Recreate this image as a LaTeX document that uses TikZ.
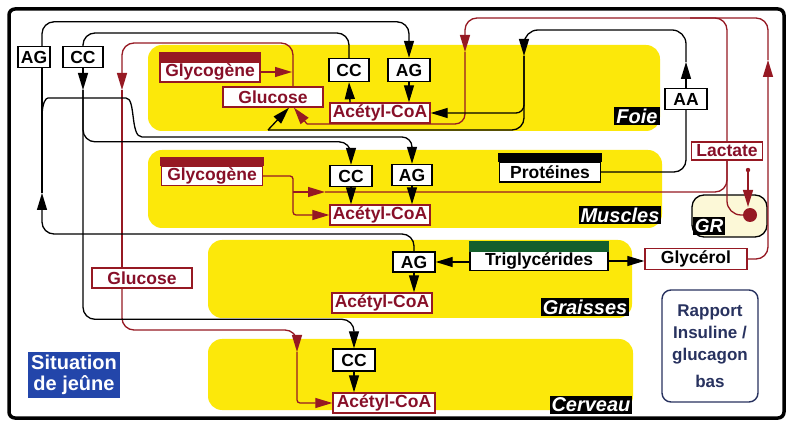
\documentclass[tikz,border=0pt]{standalone}
\usepackage{fontspec}
\setmainfont{Liberation Sans}
\usetikzlibrary{arrows.meta,calc}
\definecolor{dkred}{RGB}{150,25,35}
\definecolor{redtxt}{RGB}{135,15,40}
\definecolor{zone}{RGB}{252,232,10}
\definecolor{navy}{RGB}{40,50,95}
\definecolor{jeune}{RGB}{35,70,170}
\definecolor{grfill}{RGB}{252,248,215}
\definecolor{trigreen}{RGB}{20,95,45}
\begin{document}
\begin{tikzpicture}[x=1pt,y=-1pt,
 every node/.style={font=\fontsize{17.5}{19}\selectfont\bfseries},
 bbox/.style={draw=black, line width=1.4pt, fill=white, inner sep=1pt, minimum height=21pt},
 rbox/.style={draw=dkred, line width=1.4pt, fill=white, text=redtxt, inner sep=1pt, minimum height=20pt, minimum width=100pt},
 zonefill/.style={fill=zone, rounded corners=14pt},
 tagbox/.style={fill=black, text=white, font=\fontsize{20}{22}\selectfont\bfseries\itshape, inner sep=2pt},
 bl/.style={draw=black, line width=1.3pt},
 rl/.style={draw=dkred, line width=1.3pt},
 tipb/.style={-{Triangle[length=17pt,width=10pt]}},
 tipr/.style={-{Triangle[length=17pt,width=10pt]}},
]
\useasboundingbox (0,0) rectangle (795,427);
\fill[white] (0,0) rectangle (795,427);

% zones
\fill[zonefill] (148,45) rectangle (660,131);
\fill[zonefill] (148,150) rectangle (662,228);
\fill[zonefill] (208,240) rectangle (632,318);
\fill[zonefill] (208,339) rectangle (633,410);

% GR cell
\draw[line width=1.3pt, fill=grfill, rounded corners=12pt] (692,195) rectangle (767,237);

% nodes
\node[bbox, minimum width=32pt] (agTL) at (34,57) {AG};
\node[bbox, minimum width=40pt] (ccTL) at (83,57) {CC};
\node[rbox] (glyF) at (210,72) {Glycogène};
\node[rbox] (gluF) at (273,97) {Glucose};
\node[bbox, minimum width=40pt, minimum height=23pt] (ccF) at (349,70) {CC};
\node[bbox, minimum width=42pt, minimum height=23pt] (agF) at (409,70) {AG};
\node[rbox] (acF) at (380,113) {Acétyl-CoA};
\node[bbox, minimum width=42pt] (aa) at (686,99) {AA};
\node[rbox, minimum width=71pt, minimum height=18pt] (lac) at (727,151) {Lactate};
\node[bbox, minimum width=101pt, minimum height=20pt] (prot) at (550,172) {Protéines};
\node[rbox, minimum width=101pt, minimum height=19pt] (glyM) at (212,176) {Glycogène};
\node[bbox, minimum width=42pt] (ccM) at (351,176) {CC};
\node[bbox, minimum width=40pt] (agM) at (412,175) {AG};
\node[rbox] (acM) at (380,215) {Acétyl-CoA};
\node[bbox, minimum width=42pt, minimum height=20pt] (agG) at (414,262) {AG};
\node[rbox] (acG) at (382,303) {Acétyl-CoA};
\node[bbox, minimum width=138pt, minimum height=18pt] (tri) at (539,261) {Triglycérides};
\node[rbox, minimum width=102pt, minimum height=21pt, text=black] (glyc) at (696,259) {Glycérol};
\node[rbox] (gluL) at (142,278) {Glucose};
\node[bbox, minimum width=42pt, minimum height=22pt] (ccC) at (354,360) {CC};
\node[rbox, minimum width=102pt] (acC) at (384,403) {Acétyl-CoA};

% top bars
\filldraw[dkred, line width=1.4pt] (glyF.north west) rectangle ($(glyF.north east)+(0,-9)$);
\filldraw[dkred, line width=1.4pt] (glyM.north west) rectangle ($(glyM.north east)+(0,-8)$);
\filldraw[black, line width=1.4pt] (prot.north west) rectangle ($(prot.north east)+(0,-8)$);
\filldraw[trigreen, line width=1.4pt] (tri.north west) rectangle ($(tri.north east)+(0,-9)$);

% region tags
\node[tagbox] (foie) at (637,116) {Foie};
\node[tagbox] (musc) at (620,215) {Muscles};
\node[tagbox] (grai) at (585,307) {Graisses};
\node[tagbox] (cerv) at (591,405) {Cerveau};
\node[tagbox, font=\fontsize{19}{21}\selectfont\bfseries\itshape] (gr) at (709,226) {GR};

% GR dots
\fill[dkred] (750,215) circle (7pt);
\fill[dkred] (748,170) circle (2.2pt);
\draw[rl, tipr] (748,172) -- (748,207);

% Liver glucose / glycogen
\draw[rl, tipr] (glyF.east) -- (292,72);
\draw[rl, tipr, rounded corners=12pt] ([xshift=20pt]gluF.north) |- (122,43) -- (122,90);
\draw[rl] (122,90) -- ([xshift=-20pt]gluL.north);
\draw[rl, tipr, rounded corners=12pt] ([xshift=-20pt]gluL.south) |- (297,330) -- (297,352);
\draw[rl, tipr, rounded corners=3pt] (297,352) |- (acC.west);

% lactate / glycerol to liver
\draw[rl, tipr, rounded corners=12pt] (glyc.east) -| (768,60);
\draw[rl, tipr, rounded corners=12pt] (768,60) |- (465,18) -- (465,52);
\draw[rl, rounded corners=12pt] (lac.north) |- (690,18);
\draw[rl, rounded corners=10pt] (465,52) |- (307,124);
\draw[rl, tipr] (307,124) -- ([xshift=21pt]gluF.south);

% muscle glycogen
\draw[rl, tipr, rounded corners=3pt] (glyM.east) -| (293,215) -- (acM.west);
\draw[rl, tipr] (293,192) -- (325,192);
\draw[rl, rounded corners=12pt] (325,192) -| (lac.south);
\draw[rl, rounded corners=14pt] (lac.south) |- (743,215);

% amino acids
\draw[bl, rounded corners=12pt] (prot.east) -| (aa.south);
\draw[bl, tipb] (aa.north) -- (686,62);
\draw[bl, tipb, rounded corners=14pt] (686,62) |- (524,30) -- (524,56);
\draw[bl, tipb, rounded corners=8pt] (524,56) |- (acF.east);
\draw[bl, rounded corners=12pt] (524,56) |- (268,130);
\draw[bl, tipb] (268,130) -- ([xshift=16pt]gluF.south);

% liver arrows
\draw[bl, tipb] ([xshift=-30pt]acF.north) -- (ccF.south);
\draw[bl, tipb] (agF.south) -- (agF.south |- acF.north);

% ketone bodies
\draw[bl, rounded corners=12pt] (ccF.north) |- (83,33) -- (ccTL.north);
\draw[bl, tipb] (ccTL.south) -- (83,90);
\draw[bl, tipb, rounded corners=12pt] (83,90) |- ($(ccM.north)+(0,-23)$) -- (ccM.north);
\draw[bl, tipb, rounded corners=12pt] (83,90) |- ($(ccC.north)+(0,-29)$) -- (ccC.north);

% fatty acids
\draw[bl, tipb, rounded corners=12pt] (agG.north) |- (42,234) -- (42,193);
\draw[bl] (42,193) -- ([xshift=8pt]agTL.south);
\draw[bl, tipb, rounded corners=12pt] ([xshift=8pt]agTL.north) |- ($(agF.north)+(0,-36)$) -- (agF.north);
\draw[bl, tipb, rounded corners=10pt] (42,118) .. controls (42,102) and (46,98) .. (58,98) -- (116,98) .. controls (136,98) and (130,137) .. (152,137) -| (agM.north);

% muscles arrows
\draw[bl, tipb] (ccM.south) -- (ccM.south |- acM.north);
\draw[bl, tipb] (agM.south) -- (agM.south |- acM.north);

% adipose
\draw[bl, tipb] (agG.south) -- (agG.south |- acG.north);
\draw[bl, tipb] (tri.west |- agG.east) -- (agG.east);
\draw[bl, tipb] (tri.east) -- (glyc.west |- tri.east);

% brain
\draw[bl, tipb] (ccC.south) -- (ccC.south |- acC.north);

% legends
\node[fill=jeune, text=white, font=\fontsize{20}{21}\selectfont\bfseries, align=center, inner sep=3pt] (sit) at (74,375) {Situation\\de jeûne};
\node[draw=navy, line width=1.4pt, rounded corners=9pt, minimum width=96pt, minimum height=112pt, text=navy, font=\fontsize{17}{22}\selectfont\bfseries, align=center] (rap) at (710,346) {Rapport\\Insuline /\\glucagon\\[5pt]bas};

% frame
\draw[line width=3.5pt, rounded corners=6pt] (9,9) rectangle (784,418);
\end{tikzpicture}
\end{document}
